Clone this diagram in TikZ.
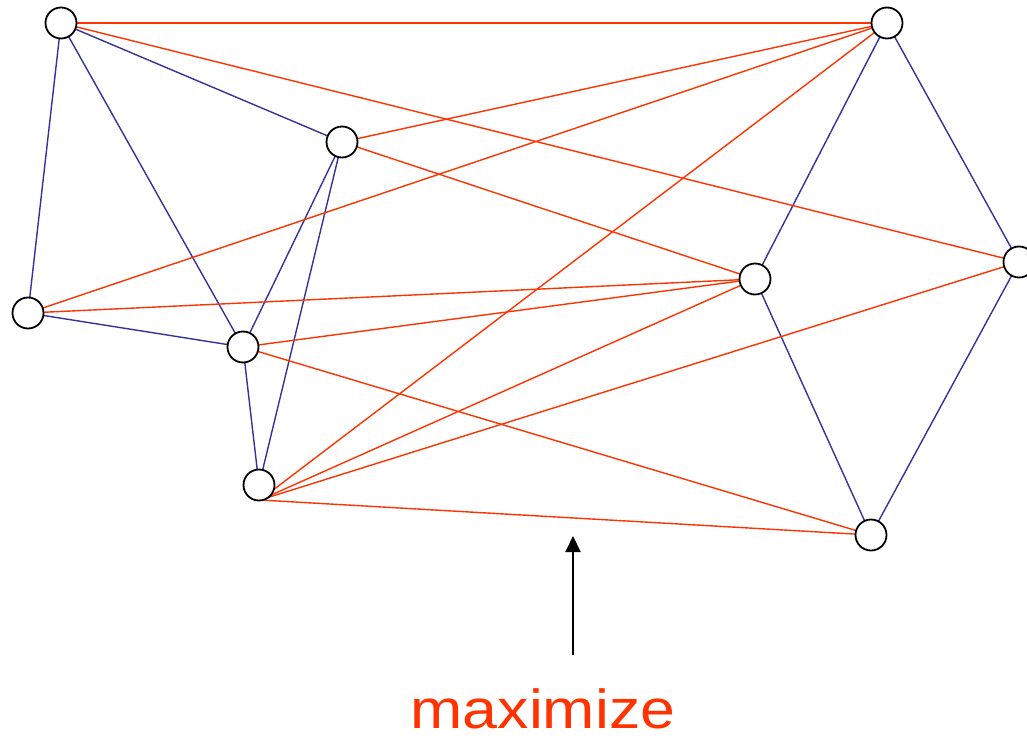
\documentclass[tikz,border=0pt]{standalone}
\usepackage{fontspec}
\setmainfont{Liberation Sans}
\usetikzlibrary{arrows.meta}
\definecolor{ered}{RGB}{255,51,0}
\definecolor{eblue}{RGB}{51,51,153}
\begin{document}
\begin{tikzpicture}[x=1pt,y=-1pt,
  vtx/.style={circle,draw=black,fill=white,line width=1.8pt,minimum size=31pt,inner sep=0pt},
  bedge/.style={draw=eblue,line width=1.4pt},
  redge/.style={draw=ered,line width=1.4pt}]
\useasboundingbox (0,0) rectangle (1027,741);
% vertices (coordinates)
\coordinate (A) at (61,23);
\coordinate (B) at (342,142);
\coordinate (C) at (28,313);
\coordinate (D) at (243,347);
\coordinate (E) at (259,485);
\coordinate (Eb) at (260,500);
\coordinate (F) at (887,23);
\coordinate (G) at (755,279);
\coordinate (H) at (1019,262);
\coordinate (I) at (871,535);
% blue edges
\draw[bedge] (A) -- (C);
\draw[bedge] (A) -- (D);
\draw[bedge] (A) -- (B);
\draw[bedge] (B) -- (D);
\draw[bedge] (B) -- (E);
\draw[bedge] (C) -- (D);
\draw[bedge] (D) -- (E);
\draw[bedge] (F) -- (G);
\draw[bedge] (F) -- (H);
\draw[bedge] (G) -- (I);
\draw[bedge] (H) -- (I);
% red edges
\draw[redge] (A) -- (F);
\draw[redge] (A) -- (H);
\draw[redge] (B) -- (F);
\draw[redge] (B) -- (G);
\draw[redge] (C) -- (F);
\draw[redge] (C) -- (G);
\draw[redge] (D) -- (G);
\draw[redge] (D) -- (I);
\draw[redge] (Eb) -- (F);
\draw[redge] (Eb) -- (G);
\draw[redge] (Eb) -- (H);
\draw[redge] (Eb) -- (I);
% vertex circles
\foreach \v in {A,B,C,D,E,F,G,H,I} \node[vtx] (n\v) at (\v) {};
% arrow and label
\node[inner sep=0pt,anchor=base,text=ered,font=\fontsize{55}{60}\selectfont] (lab) at (543,728) {\scalebox{1.14}[1]{maximize}};
\coordinate (tip) at (573,536);
\coordinate (tail) at (573,655);
\draw[line width=2pt,-{Triangle[length=16pt,width=15pt]}] (tail) -- (tip);
\end{tikzpicture}
\end{document}
